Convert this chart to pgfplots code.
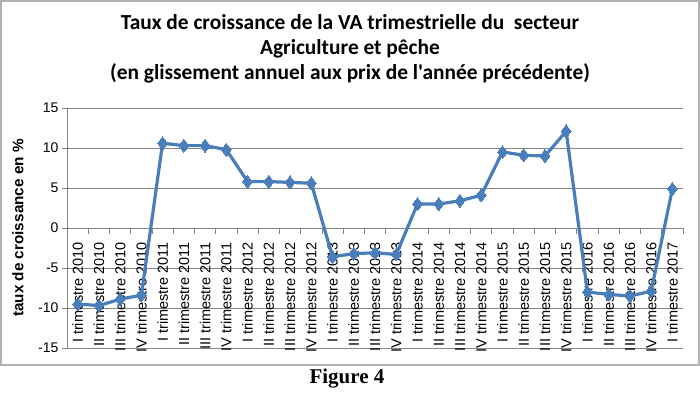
\documentclass[border=0pt]{standalone}
\usepackage{pgfplots}
\pgfplotsset{compat=1.18}
\usepackage{fontspec}
\setmainfont{Liberation Sans}
\newfontfamily\calibri{Carlito}
\newfontfamily\timesfont{Liberation Serif}
\definecolor{excelblue}{RGB}{74,126,187}
\definecolor{gridgray}{RGB}{134,134,134}
\begin{document}
\begin{tikzpicture}[x=1pt,y=1pt]
\path[use as bounding box] (0,0) rectangle (700,392);
\draw[gray!60, line width=1.5pt] (1,27) rectangle (699,391);
\node[font=\calibri\bfseries\fontsize{21.4}{25}\selectfont, align=center] at (350,343) {Taux de croissance de la VA trimestrielle du\ \ secteur\\ Agriculture et pêche\\ (en glissement annuel aux prix de l'année précédente)};
\node[font=\timesfont\bfseries\fontsize{21}{24}\selectfont] at (347,13) {Figure 4};
\begin{axis}[
  at={(67pt,44pt)}, anchor=south west, scale only axis,
  width=616pt, height=240pt,
  xmin=-0.5, xmax=28.5, ymin=-15, ymax=15,
  axis x line=middle, axis y line=left,
  axis line style={-, gridgray, line width=0.8pt},
  ytick={-15,-10,...,15},
  ymajorgrids, grid style={gridgray, line width=0.8pt},
  ytick align=outside, xtick align=outside,
  major tick length=5pt, minor tick length=6pt,
  tick style={gridgray, line width=0.8pt},
  major x tick style={draw=none},
  xtick={0,...,28},
  minor xtick={-0.5,0.5,...,28.5},
  xticklabels={I trimestre 2010, II trimestre 2010, III trimestre 2010, IV trimestre 2010,
    I trimestre 2011, II trimestre 2011, III trimestre 2011, IV trimestre 2011,
    I trimestre 2012, II trimestre 2012, III trimestre 2012, IV trimestre 2012,
    I trimestre 2013, II trimestre 2013, III trimestre 2013, IV trimestre 2013,
    I trimestre 2014, II trimestre 2014, III trimestre 2014, IV trimestre 2014,
    I trimestre 2015, II trimestre 2015, III trimestre 2015, IV trimestre 2015,
    I trimestre 2016, II trimestre 2016, III trimestre 2016, IV trimestre 2016,
    I trimestre 2017},
  xticklabel style={rotate=90, anchor=east, font=\fontsize{14.5}{16}\selectfont, inner sep=0pt, xshift=-9pt},
  yticklabel style={font=\fontsize{14}{16}\selectfont},
  /pgf/number format/assume math mode=true,
  ylabel={taux de croissance en \%},
  ylabel style={at={(axis description cs:-0.0795,0.5)}, anchor=center, rotate=0, font=\bfseries\fontsize{15.3}{18}\selectfont},
  clip=false,
]
\addplot[excelblue, line width=3.2pt, mark=diamond*, mark size=6.5pt, mark options={fill=excelblue, line width=0pt}] coordinates {
(0,-9.5) (1,-9.7) (2,-8.9) (3,-8.4)
(4,10.6) (5,10.3) (6,10.3) (7,9.8)
(8,5.8) (9,5.8) (10,5.7) (11,5.6)
(12,-3.6) (13,-3.2) (14,-3.1) (15,-3.3)
(16,3.0) (17,3.0) (18,3.4) (19,4.1)
(20,9.5) (21,9.1) (22,9.0) (23,12.1)
(24,-8.0) (25,-8.3) (26,-8.5) (27,-7.9)
(28,4.9)
};
\end{axis}
\end{tikzpicture}
\end{document}
